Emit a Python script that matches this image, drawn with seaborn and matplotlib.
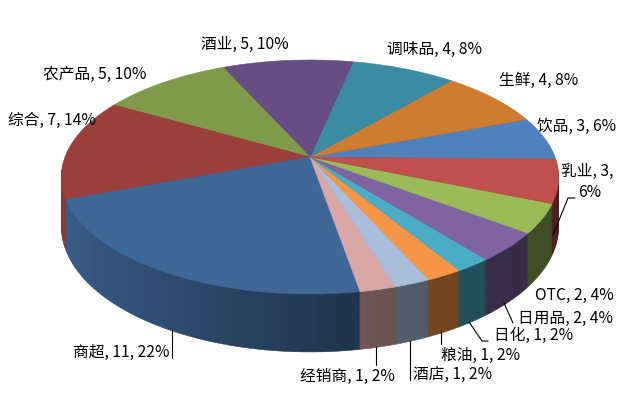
# -*- coding: utf-8 -*-
import numpy as np
import seaborn as sns
import matplotlib.pyplot as plt
from matplotlib.transforms import Transform

sns.set_theme(style='white')
plt.rcParams['font.family'] = ['Noto Sans CJK SC', 'DejaVu Sans']

# data, counter clockwise from the right hand side
names = ['饮品', '生鲜', '调味品', '酒业', '农产品', '综合', '商超',
         '经销商', '酒店', '粮油', '日化', '日用品', 'OTC', '乳业']
values = [3, 4, 4, 5, 5, 7, 11, 1, 1, 1, 1, 2, 2, 3]
colors = ['#4f81bd', '#cf7b30', '#3b8ba3', '#664d82', '#7f9a4a', '#9a3f3c', '#3f6797',
          '#d9a8a6', '#a9bcd9', '#f79646', '#4bacc6', '#8064a2', '#9bbb59', '#c0504d']

# label anchors (left, middle) in pixels
label_pos = [(537, 126), (499, 80), (387, 49), (201, 44), (43, 74), (8, 120), (73, 352),
             (300, 376), (413, 375), (441, 355), (494, 335), (518, 318), (535, 295), (561, 171)]

leaders = [[(172, 330), (172, 358)],
           [(376, 347), (376, 365)],
           [(410, 341), (410, 380)],
           [(441, 332), (441, 344)],
           [(469, 322), (482, 341), (488, 341)],
           [(504, 303), (513, 323)],
           [(553, 235), (568, 198), (575, 198)]]

START = -1
CX, CY = 310, 157
RX, RY = 245, 113.6
TILT = 0.171
DEPTH = 48
FS = 11.3


class Persp(Transform):
    # flat unit pie -> tilted pie in pixels, z is how far down the side
    input_dims = 2
    output_dims = 2

    def __init__(self, z=0.0):
        super().__init__()
        self.z = z

    def transform_non_affine(self, xy):
        xy = np.asarray(xy)
        w = 1 + TILT * xy[:, 1]
        return np.column_stack([CX + RX * xy[:, 0] / w,
                                CY + (self.z - RY * xy[:, 1]) / w])


def shade(hex_col, f):
    r, g, b = sns.color_palette([hex_col])[0]
    return (r * f, g * f, b * f)


fig = plt.figure(figsize=(6.21, 3.94), dpi=100)
ax = fig.add_axes([0, 0, 1, 1])

# side of the cake: the same pie stacked downwards, each unit of value cut up for the shading
n_sub = 5
counts = np.array(values) * n_sub
side_vals = np.repeat(np.array(values) / counts, counts)
mids = START + 360 * (np.cumsum(side_vals) - side_vals / 2) / side_vals.sum()
side_f = np.interp(np.cos(np.radians(mids)), [-1, 0.1, 1], [0.92, 0.52, 0.40])
side_cols = [shade(c, f) for c, f in zip(np.repeat(colors, counts), side_f)]

for z in np.arange(DEPTH, 0, -1.5):
    wedges, _ = ax.pie(side_vals, colors=side_cols, startangle=START)
    for w, c in zip(wedges, side_cols):
        w.set_edgecolor(c)
        w.set_linewidth(0.4)
        w.set_transform(Persp(z) + ax.transData)

# top of the cake
wedges, _ = ax.pie(values, colors=colors, startangle=START)
for w, c in zip(wedges, colors):
    w.set_edgecolor(c)
    w.set_linewidth(0.4)
    w.set_transform(Persp() + ax.transData)

ax.set_aspect('auto')

total = sum(values)
for name, v, (x, y) in zip(names, values, label_pos):
    pct = round(100 * v / total)
    if name == '乳业':
        # wraps in the original
        ax.text(x, y, f'{name}, {v},', ha='left', va='center', fontsize=FS, color='black')
        ax.text(578, 192, f'{pct}%', ha='left', va='center', fontsize=FS, color='black')
    else:
        ax.text(x, y, f'{name}, {v}, {pct}%', ha='left', va='center', fontsize=FS, color='black')

for pts in leaders:
    xs, ys = zip(*pts)
    ax.plot(xs, ys, color='black', lw=0.8)

ax.set_xlim(0, 621)
ax.set_ylim(394, 0)
fig.savefig('out.png', dpi=100)
